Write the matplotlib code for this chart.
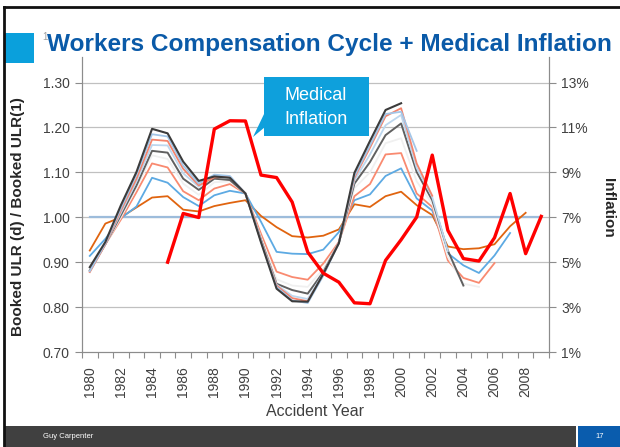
import numpy as np
import matplotlib.pyplot as plt
from matplotlib.patches import Rectangle, Polygon
from matplotlib.lines import Line2D

plt.rcParams['font.family'] = ['Liberation Sans', 'DejaVu Sans']

W, H = 620, 447

# accident years on the category axis
years = list(range(1980, 2010))
year_labels = [str(y) for y in years[::2]]

# booked ULR ratios, one list per development age (older ages stop earlier)
dev_1 = [0.926, 0.986, 1.000, 1.022, 1.044, 1.047, 1.017, 1.013, 1.025, 1.032, 1.038, 1.003, 0.978, 0.958, 0.955,
         0.959, 0.973, 1.029, 1.023, 1.047, 1.057, 1.027, 1.005, 0.935, 0.929, 0.931, 0.940, 0.980, 1.010]
dev_2 = [0.914, 0.952, 0.998, 1.024, 1.088, 1.077, 1.045, 1.025, 1.049, 1.059, 1.053, 0.990, 0.923, 0.919, 0.918,
         0.928, 0.967, 1.038, 1.051, 1.092, 1.109, 1.042, 1.015, 0.920, 0.893, 0.876, 0.915, 0.965]
dev_3 = [0.880, 0.940, 0.995, 1.056, 1.120, 1.111, 1.058, 1.038, 1.064, 1.074, 1.053, 0.963, 0.879, 0.867, 0.861,
         0.897, 0.945, 1.047, 1.074, 1.140, 1.143, 1.053, 1.023, 0.904, 0.865, 0.854, 0.898]
dev_4 = [0.879, 0.940, 1.000, 1.065, 1.138, 1.130, 1.075, 1.050, 1.078, 1.080, 1.053, 0.955, 0.862, 0.848, 0.845,
         0.885, 0.943, 1.065, 1.100, 1.165, 1.176, 1.080, 1.030, 0.912, 0.852, 0.845]
dev_5 = [0.882, 0.940, 1.005, 1.071, 1.148, 1.144, 1.086, 1.061, 1.086, 1.083, 1.053, 0.950, 0.852, 0.838, 0.830,
         0.878, 0.943, 1.075, 1.123, 1.183, 1.209, 1.101, 1.038, 0.926, 0.848]
dev_6 = [0.880, 0.940, 1.010, 1.080, 1.161, 1.160, 1.098, 1.068, 1.092, 1.088, 1.053, 0.948, 0.850, 0.825, 0.818,
         0.875, 0.945, 1.082, 1.140, 1.205, 1.228, 1.110, 1.045, 0.925]
dev_7 = [0.878, 0.940, 1.015, 1.086, 1.173, 1.170, 1.108, 1.071, 1.089, 1.090, 1.053, 0.947, 0.848, 0.820, 0.813,
         0.872, 0.945, 1.088, 1.155, 1.225, 1.243, 1.120, 1.048]
dev_8 = [0.880, 0.942, 1.020, 1.095, 1.185, 1.180, 1.115, 1.075, 1.095, 1.092, 1.053, 0.946, 0.845, 0.815, 0.809,
         0.870, 0.943, 1.092, 1.160, 1.230, 1.235, 1.148]
dev_9 = [0.889, 0.945, 1.027, 1.101, 1.197, 1.187, 1.124, 1.081, 1.091, 1.088, 1.053, 0.944, 0.841, 0.813, 0.812,
         0.874, 0.942, 1.099, 1.170, 1.239, 1.254]
baseline = [1.0] * len(years)

# medical inflation (%), right axis
med_years = list(range(1985, 2010))
med_infl = [5.0, 7.17, 6.99, 10.93, 11.3, 11.29, 8.88, 8.77, 7.68, 5.45, 4.51, 4.11, 3.19, 3.15, 5.08, 6.0,
            7.01, 9.77, 6.42, 5.16, 5.05, 6.09, 8.06, 5.38, 7.04]

left_ticks = [0.7, 0.8, 0.9, 1.0, 1.1, 1.2, 1.3]
right_ticks = [1, 3, 5, 7, 9, 11, 13]


def fx(px):
    return px / W


def fy(py):
    return 1 - py / H


fig = plt.figure(figsize=(6.2, 4.47), dpi=100)
fig.patch.set_facecolor('white')

ax = fig.add_axes([fx(82), fy(352), fx(549) - fx(82), fy(57) - fy(352)])
ax.set_facecolor('none')

ax.plot(years, baseline, color='#9DBCDB', lw=1.6)
series = [dev_1, dev_2, dev_3, dev_4, dev_5, dev_6, dev_7, dev_8, dev_9]
colors = ['#E0640F', '#5DAAE3', '#F98A70', '#F0F0F0', '#606060', '#BDD7EE', '#F4836B', '#A3C6E8', '#3B3B3B']
widths = [1.3, 1.3, 1.3, 1.3, 1.4, 1.3, 1.3, 1.3, 1.5]
for vals, c, lw in zip(series, colors, widths):
    ax.plot(years[:len(vals)], vals, color=c, lw=lw)

ax.set_xlim(1979.5, 2009.5)
ax.set_ylim(0.7, 1.357)
ax.set_yticks(left_ticks)
ax.set_yticklabels(['%.2f' % v for v in left_ticks])
ax.set_xticks(np.arange(1979.5, 2010, 1))
ax.set_xticklabels([])
ax.set_xticks(years[::2], minor=True)
ax.set_xticklabels(year_labels, minor=True, rotation=90)
ax.tick_params(axis='x', which='major', direction='out', length=4, color='#8C8C8C')
ax.tick_params(axis='x', which='minor', length=0, pad=10, labelsize=10, labelcolor='#404040')
ax.tick_params(axis='y', direction='out', length=5, color='#8C8C8C', labelsize=10, labelcolor='#404040', pad=4)
for y in left_ticks[1:]:
    ax.axhline(y, color='#C0C0C0', lw=0.9, zorder=0)
ax.spines['top'].set_visible(False)
for s in ['left', 'right', 'bottom']:
    ax.spines[s].set_color('#8C8C8C')
ax.set_xlabel('Accident Year', fontsize=11.5, color='#404040', labelpad=5)

ax2 = ax.twinx()
ax2.plot(med_years, med_infl, color='#FF0000', lw=2.4)
ax2.set_ylim(1, 14.14)
ax2.set_yticks(right_ticks)
ax2.set_yticklabels(['%d%%' % v for v in right_ticks])
ax2.tick_params(axis='y', direction='out', length=5, color='#8C8C8C', labelsize=10, labelcolor='#404040', pad=4)
ax2.spines['top'].set_visible(False)
for s in ['left', 'right', 'bottom']:
    ax2.spines[s].set_color('#8C8C8C')

fig.text(fx(18), fy(217), 'Booked ULR (d) / Booked ULR(1)', rotation=90, ha='center', va='center',
         fontsize=11, fontweight='bold', color='#262626')
fig.text(fx(608), fy(208), 'Inflation', rotation=270, ha='center', va='center',
         fontsize=11, fontweight='bold', color='#262626')

# title and slide decoration
fig.add_artist(Rectangle((fx(4), fy(63)), fx(30), fy(33) - fy(63), color='#0AA0DC', lw=0))
fig.text(fx(42), fy(37), '1', fontsize=7, color='#A0A0A0', ha='left', va='center')
fig.text(fx(47), fy(44), 'Workers Compensation Cycle + Medical Inflation', fontsize=17.55, fontweight='bold',
         color='#0A5AA8', ha='left', va='center')

# callout
fig.add_artist(Rectangle((fx(264), fy(136)), fx(105), fy(77) - fy(136), color='#0EA0DC', lw=0))
fig.add_artist(Polygon([(fx(265), fy(112)), (fx(253), fy(137)), (fx(265), fy(127))], closed=True,
                       color='#0EA0DC', lw=0))
fig.text(fx(316), fy(95), 'Medical', fontsize=13, color='white', ha='center', va='center')
fig.text(fx(316), fy(119), 'Inflation', fontsize=13, color='white', ha='center', va='center')

# footer
fig.add_artist(Rectangle((fx(4), 0), fx(572), fy(426), color='#404040', lw=0))
fig.add_artist(Rectangle((fx(578), 0), fx(42), fy(426), color='#0A5CAD', lw=0))
fig.text(fx(43), fy(437), 'Guy Carpenter', fontsize=5.5, color='white', ha='left', va='center')
fig.text(fx(600), fy(437), '17', fontsize=5.5, color='white', ha='center', va='center')

# slide frame
fig.add_artist(Line2D([fx(4), fx(4)], [0, fy(7)], color='#111111', lw=2))
fig.add_artist(Line2D([fx(4), 1], [fy(7), fy(7)], color='#111111', lw=2))

fig.savefig('out.png', dpi=100)
